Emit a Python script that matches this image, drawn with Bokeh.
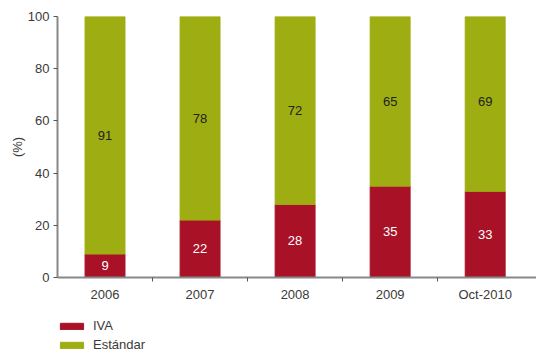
from bokeh.plotting import figure
from bokeh.layouts import column
from bokeh.core.properties import value
from bokeh.models import ColumnDataSource, FixedTicker, Range1d, Legend, LegendItem, LabelSet
from bokeh.embed import file_html
from bokeh.resources import INLINE

categories = ["2006", "2007", "2008", "2009", "Oct-2010"]
iva = [9, 22, 28, 35, 33]
estandar = [91, 78, 72, 65, 69]
series_names = ["IVA", "Estándar"]

RED = "#A81126"
GREEN = "#9EAD12"
FONT = "Liberation Sans"
TXT = "#3a3a3a"

x = [i + 0.5 for i in range(len(categories))]
src = ColumnDataSource(dict(
    x=x,
    iva_top=iva, est_bottom=iva, est_top=[a + b for a, b in zip(iva, estandar)],
    iva_mid=[v / 2 for v in iva], est_mid=[a + b / 2 for a, b in zip(iva, estandar)],
    iva_lbl=[str(v) for v in iva], est_lbl=[str(v) for v in estandar],
))

p = figure(width=536, height=304, output_backend="svg", toolbar_location=None,
           x_range=Range1d(0, 5.04), y_range=Range1d(0, 100),
           min_border_left=57, min_border_right=0, min_border_top=16, min_border_bottom=23)
p.outline_line_color = None
p.grid.visible = False

p.vbar(x="x", bottom=0, top="iva_top", width=0.42, color=RED, source=src)
p.vbar(x="x", bottom="est_bottom", top="est_top", width=0.42, color=GREEN, source=src)

p.add_layout(LabelSet(x="x", y="iva_mid", text="iva_lbl", source=src, text_align="center",
                      text_baseline="middle", text_color="white", text_font=value(FONT),
                      text_font_size="13px"))
p.add_layout(LabelSet(x="x", y="est_mid", text="est_lbl", source=src, text_align="center",
                      text_baseline="middle", text_color="#222222", text_font=value(FONT),
                      text_font_size="13px"))

xa = p.xaxis[0]
xa.ticker = FixedTicker(ticks=x, minor_ticks=[1, 2, 3, 4])
xa.major_label_overrides = {xv: c for xv, c in zip(x, categories)}
xa.major_tick_out = 0
xa.major_tick_in = 0
xa.minor_tick_out = 4
xa.minor_tick_in = 0
xa.minor_tick_line_color = "#555555"
xa.axis_line_color = "#888888"
xa.axis_line_width = 2
xa.major_label_text_font = FONT
xa.major_label_text_font_size = "13px"
xa.major_label_text_color = TXT
xa.major_label_standoff = 5

ya = p.yaxis[0]
ya.ticker = FixedTicker(ticks=[0, 20, 40, 60, 80, 100])
ya.minor_tick_line_color = None
ya.major_tick_out = 4
ya.major_tick_in = 0
ya.major_tick_line_color = "#555555"
ya.axis_line_color = "#888888"
ya.axis_line_width = 2
ya.major_label_text_font = FONT
ya.major_label_text_font_size = "13px"
ya.major_label_text_color = TXT
ya.major_label_standoff = 4
ya.axis_label = "(%)"
ya.axis_label_text_font = FONT
ya.axis_label_text_font_size = "13px"
ya.axis_label_text_font_style = "normal"
ya.axis_label_text_color = TXT
ya.axis_label_standoff = 0

# legend strip below the chart (proxy renderers, drawn outside their range)
proxy = ColumnDataSource(dict(x=[-10], top=[-10]))
pl = figure(width=536, height=48, output_backend="svg", toolbar_location=None,
            x_range=Range1d(0, 1), y_range=Range1d(0, 1),
            x_axis_type=None, y_axis_type=None, min_border=0)
pl.outline_line_color = None
pl.grid.visible = False
l1 = pl.vbar(x="x", top="top", width=0.4, color=RED, source=proxy)
l2 = pl.vbar(x="x", top="top", width=0.4, color=GREEN, source=proxy)

legend = Legend(items=[LegendItem(label=series_names[0], renderers=[l1]),
                       LegendItem(label=series_names[1], renderers=[l2])],
                location=(0, 0), orientation="vertical",
                glyph_width=29, glyph_height=8, label_height=8, spacing=4,
                padding=0, margin=0, border_line_color=None, background_fill_alpha=0,
                label_text_font=FONT, label_text_font_size="13px",
                label_text_color=TXT, label_standoff=7)
pl.add_layout(legend)

layout = column(p, pl, spacing=0)
open("out.html", "w").write(file_html(layout, INLINE))
